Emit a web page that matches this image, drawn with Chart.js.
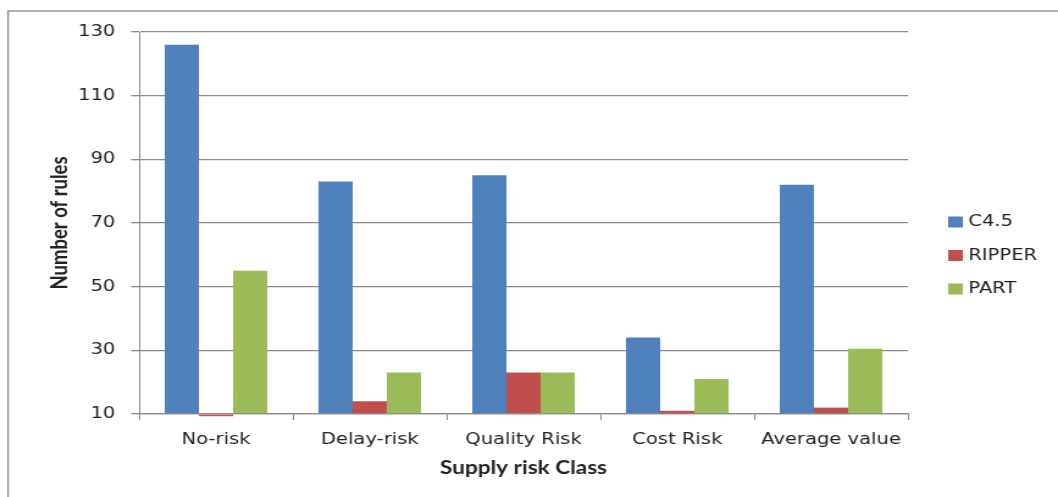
<!DOCTYPE html>
<html>
<head>
<meta charset="utf-8">
<script src="https://cdn.jsdelivr.net/npm/chart.js@4.4.1/dist/chart.umd.min.js"></script>
<style>
  html, body { margin: 0; padding: 0; background: #fff; overflow: hidden; }
  #wrap { width: 1058px; height: 497px; overflow: hidden; position: relative; }
  #c { position: absolute; left: 0; top: 0; transform-origin: 0 0; }
</style>
</head>
<body>
<div id="wrap"><canvas id="c"></canvas></div>
<script>
// Number of classification rules per supply-risk class
const categories = ['No-risk', 'Delay-risk', 'Quality Risk', 'Cost Risk', 'Average value'];
const seriesNames = ['C4.5', 'RIPPER', 'PART'];
const c45Rules = [126, 83, 85, 34, 82];
const ripperRules = [9.3, 14, 23, 11, 12];
const partRules = [55, 23, 23, 21, 30.5];
const yTickValues = [10, 30, 50, 70, 90, 110, 130];
const seriesColors = ['#4F81BD', '#C0504D', '#9BBB59'];

// The drawing is laid out on a narrower canvas and widened horizontally.
const WIDEN = 1.22;
const CW = Math.round(1058 / WIDEN), CH = 497;
const canvas = document.getElementById('c');
canvas.width = CW;
canvas.height = CH;
canvas.style.width = CW + 'px';
canvas.style.height = CH + 'px';
canvas.style.transform = 'scaleX(' + (1058 / CW) + ')';

const AXIS_GREY = '#8a8a8a';
const TEXT = '#222';
const tickFont = { family: '"DejaVu Sans", Verdana, sans-serif', size: 16 };
const titleFont = { family: 'Lato, "Open Sans", sans-serif', size: 18.5, weight: 'bold' };

const frame = {
  id: 'frame',
  beforeDraw(chart) {
    const ctx = chart.ctx;
    ctx.save();
    ctx.fillStyle = '#fff';
    ctx.fillRect(0, 0, chart.width, chart.height);
    ctx.strokeStyle = AXIS_GREY;
    ctx.lineWidth = 1.3;
    ctx.strokeRect(6.6, 11, chart.width + 20, chart.height + 20);
    ctx.restore();
  }
};

const sideLegend = {
  id: 'sideLegend',
  afterDraw(chart) {
    const { ctx, chartArea } = chart;
    const x0 = chartArea.right + 33;
    ctx.save();
    ctx.font = tickFont.size + 'px ' + tickFont.family;
    ctx.textBaseline = 'middle';
    ctx.textAlign = 'left';
    chart.data.datasets.forEach((ds, i) => {
      const yc = chartArea.top + 190 + i * 33.5;
      ctx.fillStyle = ds.backgroundColor;
      ctx.fillRect(x0, yc - 5.5, 12, 11);
      ctx.fillStyle = TEXT;
      ctx.fillText(ds.label, x0 + 16.5, yc);
    });
    ctx.restore();
  }
};

const seriesData = [c45Rules, ripperRules, partRules];

new Chart(canvas, {
  type: 'bar',
  data: {
    labels: categories,
    datasets: seriesNames.map((name, i) => ({
      label: name,
      data: seriesData[i],
      backgroundColor: seriesColors[i],
      base: 10,
      clip: false,
      categoryPercentage: 0.667,
      barPercentage: 1.0
    }))
  },
  options: {
    responsive: false,
    devicePixelRatio: 1,
    animation: false,
    layout: { padding: { left: 38, right: 123, top: 32, bottom: 18 } },
    plugins: {
      legend: { display: false },
      tooltip: { enabled: false }
    },
    scales: {
      x: {
        offset: true,
        afterFit(scale) { scale.height = 65; },
        grid: {
          display: true,
          offset: true,
          drawOnChartArea: false,
          drawTicks: true,
          tickLength: 6,
          color: AXIS_GREY,
          lineWidth: 1
        },
        border: { display: true, color: AXIS_GREY, width: 1.3 },
        ticks: { color: TEXT, font: tickFont, padding: 10, maxRotation: 0, autoSkip: false },
        title: {
          display: true,
          text: 'Supply risk Class',
          color: TEXT,
          font: titleFont,
          padding: { top: 0, bottom: 0 }
        }
      },
      y: {
        min: 10,
        max: 130,
        afterBuildTicks(scale) {
          scale.ticks = yTickValues.map(v => ({ value: v }));
        },
        afterFit(scale) { scale.width = 76; },
        grid: {
          color: AXIS_GREY,
          lineWidth: 1.3,
          drawTicks: true,
          tickLength: 6.5
        },
        border: { display: true, color: AXIS_GREY, width: 1 },
        ticks: { color: TEXT, font: tickFont, padding: 13 },
        title: {
          display: true,
          text: 'Number of rules',
          color: TEXT,
          font: titleFont,
          padding: { top: 0, bottom: 0 }
        }
      }
    }
  },
  plugins: [frame, sideLegend]
});
</script>
</body>
</html>
